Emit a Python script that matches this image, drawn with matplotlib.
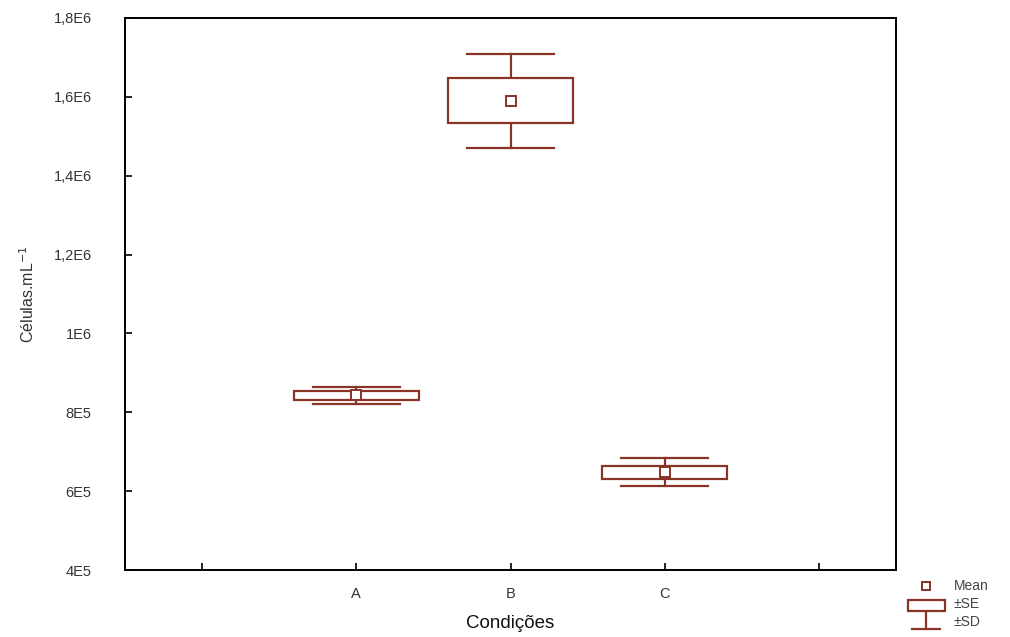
import matplotlib
matplotlib.use("Agg")
import matplotlib.pyplot as plt
from matplotlib.patches import Rectangle
from matplotlib.lines import Line2D

plt.rcParams['font.family'] = ['Liberation Sans', 'DejaVu Sans']

# Cell counts per condition: mean, standard error, standard deviation
conditions = ['A', 'B', 'C']
means = [842600, 1590000, 647300]
se = [11400, 57000, 16500]
sd = [20700, 119600, 35500]

y_ticks = [400000, 600000, 800000, 1000000, 1200000, 1400000, 1600000, 1800000]
y_tick_labels = ['4E5', '6E5', '8E5', '1E6', '1,2E6', '1,4E6', '1,6E6', '1,8E6']

color = '#8a3327'
box_w = 0.81
cap_w = 0.565

fig = plt.figure(figsize=(10.10, 6.37), dpi=100)
ax = fig.add_axes([125 / 1010, 1 - 570 / 637, 771 / 1010, 552 / 637])

positions = [1, 2, 3]
for x, m, e, s in zip(positions, means, se, sd):
    # whisker stems and caps (±SD)
    ax.plot([x, x], [m + e, m + s], color=color, lw=1.6, zorder=2)
    ax.plot([x, x], [m - s, m - e], color=color, lw=1.6, zorder=2)
    ax.plot([x - cap_w / 2, x + cap_w / 2], [m + s, m + s], color=color, lw=1.6, zorder=2)
    ax.plot([x - cap_w / 2, x + cap_w / 2], [m - s, m - s], color=color, lw=1.6, zorder=2)
    # box (±SE)
    ax.add_patch(Rectangle((x - box_w / 2, m - e), box_w, 2 * e,
                           facecolor='white', edgecolor=color, lw=1.6, zorder=3))
    # mean
    ax.plot([x], [m], marker='s', ms=6.5, mfc='white', mec=color, mew=1.4,
            ls='none', zorder=4)

ax.set_xlim(-0.5, 4.5)
ax.set_ylim(400000, 1800000)
ax.set_xticks([0, 1, 2, 3, 4])
ax.set_xticklabels(['', 'A', 'B', 'C', ''])
ax.set_yticks(y_ticks)
ax.set_yticklabels(y_tick_labels)

ax.tick_params(direction='in', length=5, width=1.2, colors='black',
               labelcolor='#333333', labelsize=10.5)
ax.tick_params(axis='x', pad=12)
ax.tick_params(axis='y', pad=24)
for sp in ax.spines.values():
    sp.set_linewidth(1.4)
    sp.set_color('black')

ax.set_xlabel('Condições', fontsize=13.5, color='#111111', labelpad=10)
ax.set_ylabel('Células.mL$^{-1}$', fontsize=11.5, color='#333333', labelpad=12)


def draw_legend():
    fx = lambda px: px / 1010
    fy = lambda py: 1 - py / 637
    # mean marker
    fig.add_artist(Line2D([fx(926)], [fy(586)], marker='s', ms=6, mfc='white',
                          mec=color, mew=1.4, ls='none', transform=fig.transFigure))
    fig.text(fx(954), fy(586), 'Mean', fontsize=10, color='#444444', va='center')
    # SE box
    fig.add_artist(Rectangle((fx(908), fy(611)), fx(945) - fx(908), fy(600) - fy(611),
                             facecolor='white', edgecolor=color, lw=1.6,
                             transform=fig.transFigure))
    fig.text(fx(954), fy(604), '±SE', fontsize=10, color='#444444', va='center')
    # SD whisker
    fig.add_artist(Line2D([fx(926), fx(926)], [fy(613), fy(629)], color=color, lw=1.6,
                          transform=fig.transFigure))
    fig.add_artist(Line2D([fx(912), fx(940)], [fy(629), fy(629)], color=color, lw=1.6,
                          transform=fig.transFigure))
    fig.text(fx(954), fy(622), '±SD', fontsize=10, color='#444444', va='center')


draw_legend()

fig.savefig('out.png', dpi=100)
